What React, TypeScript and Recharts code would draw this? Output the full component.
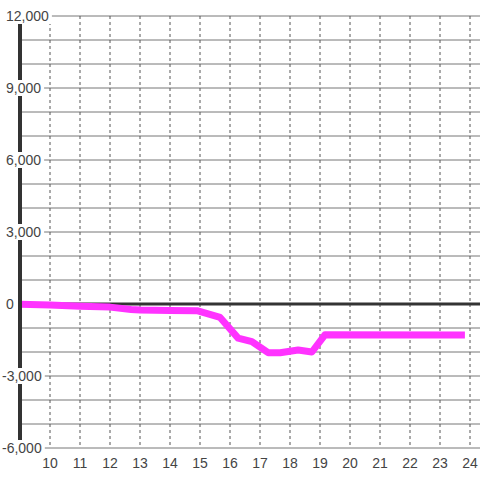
import {
  LineChart,
  Line,
  XAxis,
  YAxis,
  CartesianGrid,
  ReferenceLine,
} from "recharts";

const hours = [9, 10, 11, 12, 12.7, 13, 14, 14.9, 15.67, 16.27, 16.73, 17.27, 17.67, 18.27, 18.73, 19.17, 23.83];
const values = [-10, -40, -90, -130, -230, -250, -270, -280, -560, -1420, -1570, -2030, -2030, -1920, -2000, -1280, -1290];

const xTicks = [10, 11, 12, 13, 14, 15, 16, 17, 18, 19, 20, 21, 22, 23, 24];
const yTicks = [-6000, -3000, 0, 3000, 6000, 9000, 12000];
const yGrid = [-6000, -5000, -4000, -3000, -2000, -1000, 1000, 2000, 3000, 4000, 5000, 6000, 7000, 8000, 9000, 10000, 11000, 12000];

const data = hours.map((h, i) => ({ h, v: values[i] }));

const fmt = (v: number) => v.toLocaleString("en-US");

const YTick = ({ y, payload }: any) => {
  const text = fmt(payload.value);
  const digits = text.replace(/[^0-9]/g, "").length;
  const commas = (text.match(/,/g) || []).length;
  const minus = text.startsWith("-") ? 1 : 0;
  const w = digits * 7.8 + commas * 3.9 + minus * 4.7;
  const x0 = minus ? 2 : 6;
  return (
    <g>
      <rect x={x0 - 1} y={y - 8} width={w + 4} height={16} fill="#fff" />
      <text x={x0} y={y} dy={5} textAnchor="start" fill="#444" fontSize={14}>
        {text}
      </text>
    </g>
  );
};

const XTick = ({ x, y, payload }: any) => (
  <text x={x} y={y} dy={12} textAnchor="middle" fill="#444" fontSize={14}>
    {payload.value}
  </text>
);

export default function App() {
  return (
    <div
      style={{
        position: "absolute",
        top: 0,
        left: 0,
        width: 480,
        height: 480,
        background: "#fff",
        fontFamily: "'Liberation Sans', Arial, sans-serif",
      }}
    >
      <LineChart
        width={480}
        height={480}
        data={data}
        margin={{ top: 16, right: 0, bottom: 2, left: 0 }}
      >
        <CartesianGrid
          horizontal
          vertical={false}
          horizontalValues={yGrid}
          stroke="#777"
          strokeWidth={1}
        />
        <CartesianGrid
          horizontal={false}
          vertical
          verticalValues={xTicks}
          stroke="#555"
          strokeDasharray="3 3"
        />
        <ReferenceLine y={0} stroke="#333" strokeWidth={3} />
        <XAxis
          type="number"
          dataKey="h"
          domain={[9, 24.333]}
          ticks={xTicks}
          allowDataOverflow
          axisLine={false}
          tickLine={false}
          height={30}
          tick={<XTick />}
        />
        <YAxis
          type="number"
          domain={[-6000, 12000]}
          ticks={yTicks}
          width={20}
          axisLine={{ stroke: "#333", strokeWidth: 4 }}
          tickLine={false}
          tick={<YTick />}
        />
        <Line
          type="linear"
          dataKey="v"
          stroke="#ff33ff"
          strokeWidth={7}
          strokeLinejoin="round"
          dot={false}
          isAnimationActive={false}
        />
      </LineChart>
    </div>
  );
}
